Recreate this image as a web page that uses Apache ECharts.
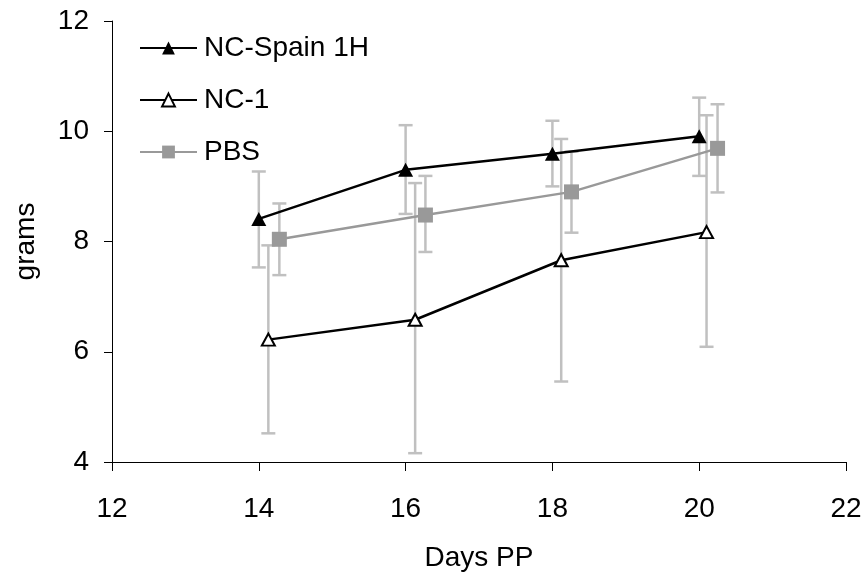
<!DOCTYPE html>
<html>
<head>
<meta charset="utf-8">
<script src="https://cdn.jsdelivr.net/npm/echarts@6/dist/echarts.min.js"></script>
<style>
  html, body { margin: 0; padding: 0; background: #fff; }
  #chart { width: 865px; height: 582px; }
</style>
</head>
<body>
<div id="chart"></div>
<script>
const xTicks = [12, 14, 16, 18, 20, 22]
const yTicks = [4, 6, 8, 10, 12]

const spainX = [14, 16, 18, 20]
const spainMean = [8.41, 9.30, 9.59, 9.91]
const spainLow = [7.53, 8.50, 9.00, 9.19]
const spainHigh = [9.27, 10.11, 10.19, 10.61]

const nc1X = [14.13, 16.13, 18.12, 20.1]
const nc1Mean = [6.22, 6.58, 7.66, 8.17]
const nc1Low = [4.52, 4.16, 5.46, 6.09]
const nc1High = [7.93, 9.06, 9.86, 10.29]

const pbsX = [14.28, 16.27, 18.26, 20.25]
const pbsMean = [8.04, 8.48, 8.90, 9.69]
const pbsLow = [7.39, 7.81, 8.16, 8.89]
const pbsHigh = [8.69, 9.19, 9.63, 10.49]

const font = "'Liberation Sans', Arial, sans-serif"

function pairs(xs, ys) {
  return xs.map((x, i) => [x, ys[i]])
}

function errorSeries(xs, lows, highs) {
  return {
    type: 'custom',
    silent: true,
    data: xs.map((x, i) => [x, lows[i], highs[i]]),
    encode: { x: 0, y: [1, 2] },
    renderItem(params, api) {
      const lo = api.coord([api.value(0), api.value(1)])
      const hi = api.coord([api.value(0), api.value(2)])
      const cap = 7
      const style = { stroke: '#c0c0c0', lineWidth: 2.5 }
      return {
        type: 'group',
        children: [
          { type: 'line', shape: { x1: lo[0], y1: lo[1], x2: hi[0], y2: hi[1] }, style },
          { type: 'line', shape: { x1: lo[0] - cap, y1: lo[1], x2: lo[0] + cap, y2: lo[1] }, style },
          { type: 'line', shape: { x1: hi[0] - cap, y1: hi[1], x2: hi[0] + cap, y2: hi[1] }, style }
        ]
      }
    }
  }
}

const chart = echarts.init(document.getElementById('chart'), null, { renderer: 'canvas' })
chart.setOption({
  animation: false,
  backgroundColor: '#fff',
  textStyle: { fontFamily: font },
  grid: { left: 112, right: 19, top: 21, bottom: 120 },
  legend: {
    orient: 'vertical',
    left: 139,
    top: 34,
    padding: 0,
    itemWidth: 57,
    itemHeight: 16,
    itemGap: 24,
    textStyle: { color: '#000', fontSize: 28, fontFamily: font, padding: [0, 0, 0, 2] },
    data: ['NC-Spain 1H', 'NC-1', 'PBS']
  },
  xAxis: {
    type: 'value',
    min: 12,
    max: 22,
    interval: 2,
    name: 'Days PP',
    nameLocation: 'middle',
    nameGap: 82,
    nameTextStyle: { color: '#000', fontSize: 28, fontFamily: font },
    axisLine: { lineStyle: { color: '#000', width: 1 } },
    axisTick: { show: true, length: 9, lineStyle: { color: '#000' } },
    axisLabel: {
      color: '#000', fontSize: 28, fontFamily: font, margin: 33,
      formatter: v => xTicks.includes(v) ? String(v) : ''
    },
    splitLine: { show: false }
  },
  yAxis: {
    type: 'value',
    min: 4,
    max: 12,
    interval: 2,
    name: 'grams',
    nameLocation: 'middle',
    nameGap: 72,
    nameTextStyle: { color: '#000', fontSize: 28, fontFamily: font },
    axisLine: { show: true, lineStyle: { color: '#000', width: 1 } },
    axisTick: { show: true, length: 8, lineStyle: { color: '#000' } },
    axisLabel: {
      color: '#000', fontSize: 28, fontFamily: font, margin: 23,
      formatter: v => yTicks.includes(v) ? String(v) : ''
    },
    splitLine: { show: false }
  },
  series: [
    errorSeries(spainX, spainLow, spainHigh),
    {
      name: 'NC-Spain 1H',
      type: 'line',
      data: pairs(spainX, spainMean),
      symbol: 'triangle',
      symbolSize: [15, 14],
      lineStyle: { color: '#000', width: 2.5 },
      itemStyle: { color: '#000', borderWidth: 0 }
    },
    errorSeries(nc1X, nc1Low, nc1High),
    {
      name: 'NC-1',
      type: 'line',
      data: pairs(nc1X, nc1Mean),
      symbol: 'triangle',
      symbolSize: [13, 12],
      lineStyle: { color: '#000', width: 2.5 },
      itemStyle: { color: '#fff', borderColor: '#000', borderWidth: 2 }
    },
    errorSeries(pbsX, pbsLow, pbsHigh),
    {
      name: 'PBS',
      type: 'line',
      data: pairs(pbsX, pbsMean),
      symbol: 'rect',
      symbolSize: 15,
      lineStyle: { color: '#999', width: 2.5 },
      itemStyle: { color: '#999', borderWidth: 0 }
    }
  ]
})
</script>
</body>
</html>
